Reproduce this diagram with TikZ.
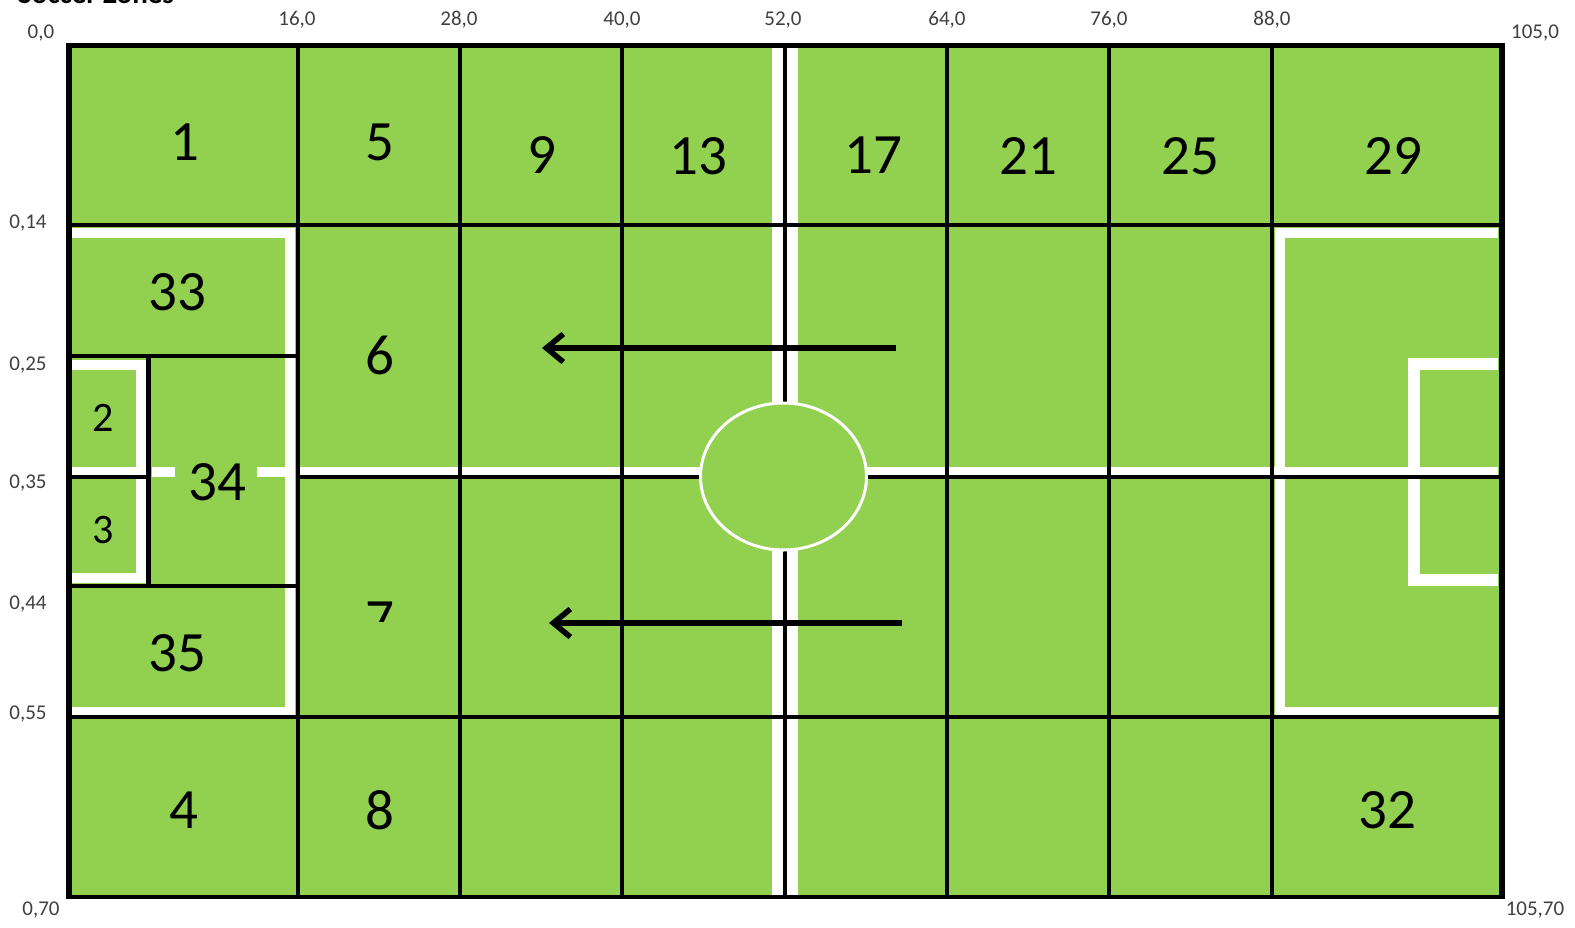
\documentclass[tikz,border=0pt]{standalone}
\usepackage{fontspec}
\setmainfont{Carlito}
\usetikzlibrary{arrows.meta}
\definecolor{colorPitch}{HTML}{92D050}

\begin{document}
\begin{tikzpicture}[
    x=1pt, y=-1pt,
    zone/.style={font=\fontsize{57}{60}\selectfont, text=black, inner sep=0pt},
    smallzone/.style={font=\fontsize{42}{46}\selectfont, text=black, inner sep=0pt},
    tick/.style={font=\fontsize{21}{23}\selectfont, text=black!75, inner sep=0pt, anchor=base},
    chalk/.style={draw=white, line width=10pt, line join=miter},
    gridline/.style={draw=black, line width=4.5pt},
    crossline/.style={draw=black, line width=3.5pt},
    arr/.style={-{Straight Barb[length=17pt, width=28pt]}, line width=5.5pt, draw=black}
  ]
    \clip (0,0) rectangle (1575,927);
    \fill[white] (0,0) rectangle (1575,927);

    % title, cut by the top edge
    \node[font=\bfseries\fontsize{29}{31}\selectfont, anchor=base west, inner sep=0pt, text=black] (title) at (18,3) {Soccer Zones};

    \fill[colorPitch] (68,45) rectangle (1502,897);

    % the 7 loses its lower part under the green patch
    \node[zone] (z7) at (380,620.5) {7};
    \fill[colorPitch] (340,622) rectangle (420,660);

    % chalk lines
    \draw[chalk] (71,233) -- (290,233) -- (290,712) -- (71,712);
    \draw[chalk] (1498,233) -- (1280,233) -- (1280,712) -- (1498,712);
    \draw[chalk, line width=12pt] (1498,364) -- (1414,364) -- (1414,580) -- (1498,580);
    \draw[chalk] (71,365) -- (141,365) -- (141,578) -- (71,578);
    \draw[chalk] (71,472) -- (146,472);
    \draw[chalk] (152,472) -- (175,472);
    \draw[chalk] (257,472) -- (290,472);
    \draw[chalk] (298,472) -- (1498,472);
    \draw[chalk, line width=26pt] (785,45) -- (785,897);

    % grid
    \draw[gridline] (298,45) -- (298,897);
    \draw[gridline] (460,45) -- (460,897);
    \draw[gridline] (622,45) -- (622,897);
    \draw[gridline] (785,45) -- (785,897);
    \draw[gridline] (947,45) -- (947,897);
    \draw[gridline] (1109,45) -- (1109,897);
    \draw[gridline] (1272,45) -- (1272,897);
    \draw[gridline] (148.5,356) -- (148.5,586);
    \draw[crossline] (68,225) -- (1502,225);
    \draw[crossline] (68,356) -- (298,356);
    \draw[crossline] (68,477) -- (148,477);
    \draw[crossline] (298,477) -- (1502,477);
    \draw[crossline] (68,586) -- (298,586);
    \draw[crossline] (68,717) -- (1502,717);

    % centre circle
    \draw[draw=white, fill=colorPitch, line width=3pt] (783.5,476.5) ellipse [x radius=83, y radius=73.5];

    % frame
    \draw[black, line width=4.5pt] (68,45.5) -- (1502,45.5);
    \draw[black, line width=4.5pt] (68,897) -- (1502,897);
    \draw[black, line width=6pt] (68.5,43.25) -- (68.5,899.25);
    \draw[black, line width=6pt] (1501.5,43.25) -- (1501.5,899.25);

    % zones
    \node[zone] (z1) at (185,142) {1};
    \node[zone] (z5) at (380,142) {5};
    \node[zone] (z9) at (542,155) {9};
    \node[zone] (z13) at (698,156) {13};
    \node[zone] (z17) at (873,155) {17};
    \node[zone] (z21) at (1028,156) {21};
    \node[zone] (z25) at (1190,156) {25};
    \node[zone] (z29) at (1393,156) {29};
    \node[zone] (z33) at (177,292) {33};
    \node[zone] (z6) at (380,355) {6};
    \node[smallzone] (z2) at (103,418) {2};
    \node[smallzone] (z3) at (103,530) {3};
    \node[zone] (z34) at (217,482) {34};
    \node[zone] (z35) at (177,653) {35};
    \node[zone] (z4) at (184,810) {4};
    \node[zone] (z8) at (380,810) {8};
    \node[zone] (z32) at (1387,810) {32};

    % axis ticks
    \node[tick] (t00) at (41,38) {0,0};
    \node[tick] (t160) at (297,25) {16,0};
    \node[tick] (t280) at (459,25) {28,0};
    \node[tick] (t400) at (622,25) {40,0};
    \node[tick] (t520) at (783,25) {52,0};
    \node[tick] (t640) at (947,25) {64,0};
    \node[tick] (t760) at (1109,25) {76,0};
    \node[tick] (t880) at (1272,25) {88,0};
    \node[tick] (t1050) at (1535,38) {105,0};
    \node[tick] (t014) at (28,228) {0,14};
    \node[tick] (t025) at (28,370) {0,25};
    \node[tick] (t035) at (28,488) {0,35};
    \node[tick] (t044) at (28,609) {0,44};
    \node[tick] (t055) at (28,719) {0,55};
    \node[tick] (t070) at (41,915) {0,70};
    \node[tick] (t10570) at (1535,915) {105,70};

    % arrows
    \coordinate (upstart) at (896,348);
    \coordinate (upend) at (542,348);
    \coordinate (lowstart) at (902,623);
    \coordinate (lowend) at (549,623);
    \draw[arr] (upstart) -- (upend);
    \draw[arr] (lowstart) -- (lowend);
  \end{tikzpicture}
\end{document}
